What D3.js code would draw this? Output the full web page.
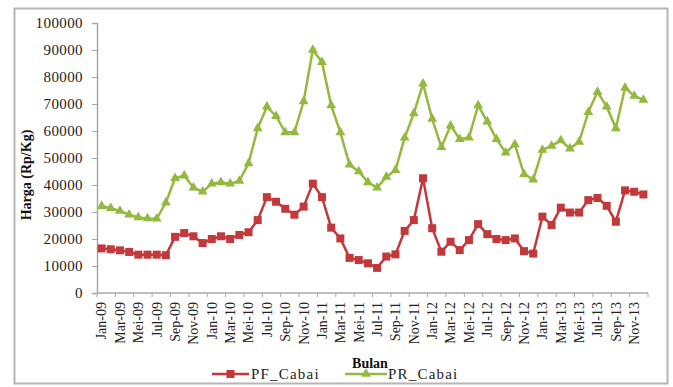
<!DOCTYPE html>
<html>
<head>
<meta charset="utf-8">
<script src="https://cdn.jsdelivr.net/npm/d3@7"></script>
<style>
  html, body { margin: 0; padding: 0; background: #fff; }
  svg { display: block; }
  .ser { font-family: "Liberation Serif", "Times New Roman", serif; }
</style>
</head>
<body>
<svg id="chart" width="673" height="387"></svg>
<script>
// Monthly chili prices (Rp/Kg), Jan 2009 – Dec 2013
const monthNames = ["Jan", "Feb", "Mar", "Apr", "Mei", "Jun", "Jul", "Agu", "Sep", "Okt", "Nov", "Des"];
const years = ["09", "10", "11", "12", "13"];
const categories = years.flatMap(y => monthNames.map(m => m + "-" + y));

const pfCabai = [
  16500, 16200, 15800, 15200, 14200, 14200, 14200, 14000, 20800, 22200, 21000, 18500,
  20000, 21000, 20000, 21500, 22500, 27000, 35500, 33800, 31200, 29000, 32000, 40500,
  35500, 24200, 20200, 13000, 12200, 11000, 9300, 13500, 14300, 23000, 27000, 42500,
  24000, 15300, 19000, 15900, 19600, 25500, 21800, 20000, 19600, 20200, 15500, 14600,
  28300, 25200, 31600, 29800, 29800, 34400, 35200, 32300, 26400, 38000, 37500, 36500
];
const prCabai = [
  32200, 31400, 30400, 29000, 28000, 27600, 27500, 33500, 42500, 43500, 39000, 37500,
  40500, 41000, 40500, 41500, 48000, 61000, 69000, 65500, 59500, 59500, 71000, 90000,
  85500, 69500, 59500, 47500, 45000, 41000, 39000, 43000, 45500, 57500, 66500, 77500,
  64500, 54000, 62000, 57000, 57500, 69500, 63500, 57000, 52000, 55000, 44000, 42000,
  53000, 54500, 56500, 53500, 56000, 67000, 74500, 69000, 61000, 76000, 73000, 71500
];
const yTicks = [0, 10000, 20000, 30000, 40000, 50000, 60000, 70000, 80000, 90000, 100000];
const seriesNames = ["PF_Cabai", "PR_Cabai"];
const seriesColors = ["#c3383b", "#94b93f"];

const svg = d3.select("#chart");

// chart frame
svg.append("rect")
  .attr("x", 14.5).attr("y", 8.5).attr("width", 653).attr("height", 375)
  .attr("fill", "none").attr("stroke", "#b5b5b5").attr("stroke-width", 2);

const x = d3.scaleBand().domain(categories).range([97, 648]).padding(0);
const y = d3.scaleLinear().domain([0, 100000]).range([293, 23]);
const cx = c => x(c) + x.bandwidth() / 2;

// y axis
const yAxis = svg.append("g")
  .attr("transform", "translate(97,0)")
  .call(d3.axisLeft(y).tickValues(yTicks).tickSize(5).tickPadding(9).tickFormat(d3.format("d")));
yAxis.select(".domain").attr("stroke", "#a8a8a8").attr("stroke-width", 1.5);
yAxis.selectAll(".tick line").attr("stroke", "#a8a8a8");
yAxis.selectAll(".tick text")
  .attr("class", "ser").attr("font-size", 15).attr("fill", "#222")
  .attr("letter-spacing", 0.4);

// x axis: baseline, tick marks every second month, rotated labels
const xg = svg.append("g");
xg.append("line")
  .attr("x1", 97).attr("x2", 648).attr("y1", y(0)).attr("y2", y(0))
  .attr("stroke", "#a8a8a8").attr("stroke-width", 1.5);
const tickCats = categories.filter((c, i) => i % 2 === 0);
const tickXs = tickCats.map(c => x(c)).concat([648]);
xg.selectAll("line.tk").data(tickXs).join("line")
  .attr("class", "tk")
  .attr("x1", d => d).attr("x2", d => d)
  .attr("y1", y(0)).attr("y2", y(0) + 4)
  .attr("stroke", "#a8a8a8");
xg.selectAll("text.xl").data(tickCats).join("text")
  .attr("class", "xl ser")
  .attr("transform", d => `translate(${cx(d)},302) rotate(-90)`)
  .attr("dy", "0.35em")
  .attr("text-anchor", "end")
  .attr("font-size", 14)
  .attr("fill", "#222")
  .text(d => d);

// axis titles
svg.append("text")
  .attr("class", "ser")
  .attr("transform", "translate(31,175) rotate(-90)")
  .attr("text-anchor", "middle")
  .attr("font-size", 14).attr("font-weight", "bold").attr("fill", "#111")
  .text("Harga (Rp/Kg)");
svg.append("text")
  .attr("class", "ser")
  .attr("x", 370).attr("y", 368)
  .attr("text-anchor", "middle")
  .attr("font-size", 14).attr("font-weight", "bold").attr("fill", "#111")
  .text("Bulan");

// series
const line = d3.line().x((d, i) => cx(categories[i])).y(d => y(d));
const tri = d3.symbol().type(d3.symbolTriangle).size(42);

svg.append("path").datum(prCabai)
  .attr("d", line).attr("fill", "none")
  .attr("stroke", seriesColors[1]).attr("stroke-width", 2.5);
svg.append("g").selectAll("path").data(prCabai).join("path")
  .attr("d", tri)
  .attr("transform", (d, i) => `translate(${cx(categories[i])},${y(d)})`)
  .attr("fill", seriesColors[1]);

svg.append("path").datum(pfCabai)
  .attr("d", line).attr("fill", "none")
  .attr("stroke", seriesColors[0]).attr("stroke-width", 2.5);
svg.append("g").selectAll("rect").data(pfCabai).join("rect")
  .attr("x", (d, i) => cx(categories[i]) - 4)
  .attr("y", d => y(d) - 4)
  .attr("width", 8).attr("height", 8)
  .attr("fill", seriesColors[0]);

// legend
const legend = [
  { name: seriesNames[0], color: seriesColors[0], x1: 212, x2: 249, tx: 251, shape: "square" },
  { name: seriesNames[1], color: seriesColors[1], x1: 345, x2: 387, tx: 388, shape: "triangle" }
];
const lg = svg.append("g").selectAll("g").data(legend).join("g");
lg.append("line")
  .attr("x1", d => d.x1).attr("x2", d => d.x2)
  .attr("y1", 374).attr("y2", 374)
  .attr("stroke", d => d.color).attr("stroke-width", 2.5);
lg.filter(d => d.shape === "square").append("rect")
  .attr("x", d => (d.x1 + d.x2) / 2 - 4).attr("y", 370)
  .attr("width", 8).attr("height", 8)
  .attr("fill", d => d.color);
lg.filter(d => d.shape === "triangle").append("path")
  .attr("d", tri)
  .attr("transform", d => `translate(${(d.x1 + d.x2) / 2},374)`)
  .attr("fill", d => d.color);
lg.append("text")
  .attr("class", "ser")
  .attr("x", d => d.tx).attr("y", 379)
  .attr("font-size", 15).attr("letter-spacing", 1.2).attr("fill", "#222")
  .text(d => d.name);
</script>
</body>
</html>
